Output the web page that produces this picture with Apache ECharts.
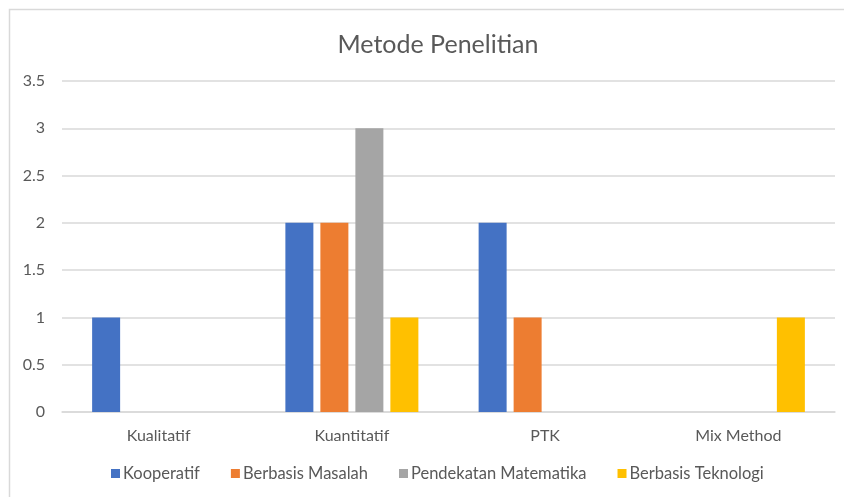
<!DOCTYPE html>
<html>
<head>
<meta charset="utf-8">
<script src="https://cdn.jsdelivr.net/npm/echarts@6/dist/echarts.min.js"></script>
<style>
  html, body { margin: 0; padding: 0; background: #fff; }
  #chart { width: 844px; height: 497px; }
</style>
</head>
<body>
<div id="chart"></div>
<script>
const categories = ["Kualitatif", "Kuantitatif", "PTK", "Mix Method"];
const seriesNames = ["Kooperatif", "Berbasis Masalah", "Pendekatan Matematika", "Berbasis Teknologi"];
const kooperatif = [1, 2, 2, 0];
const berbasisMasalah = [0, 2, 1, 0];
const pendekatanMatematika = [0, 3, 0, 0];
const berbasisTeknologi = [0, 1, 0, 1];
const colors = ["#4472C4", "#ED7D31", "#A5A5A5", "#FFC000"];

const chartDom = echarts.init(document.getElementById("chart"));
const values = [kooperatif, berbasisMasalah, pendekatanMatematika, berbasisTeknologi];
const fontFam = "Lato, 'Open Sans', sans-serif";

chartDom.setOption({
  animation: false,
  textStyle: { fontFamily: fontFam },
  title: {
    text: "Metode Penelitian",
    left: 433,
    textAlign: "center",
    top: 27,
    textStyle: { color: "#595959", fontSize: 25, fontWeight: "normal", fontFamily: fontFam },
  },
  graphic: [
    {
      type: "rect",
      shape: { x: 9.5, y: 9.5, width: 900, height: 600 },
      style: { fill: "none", stroke: "#d9d9d9", lineWidth: 1.5 },
      silent: true,
    },
  ],
  legend: {
    data: seriesNames,
    bottom: 10,
    left: 106,
    itemWidth: 9,
    itemHeight: 9,
    itemGap: 31,
    icon: "rect",
    textStyle: { color: "#595959", fontSize: 16.5, fontFamily: fontFam, padding: [0, 0, 0, -2] },
  },
  grid: {
    left: 62,
    right: 9,
    top: 81,
    bottom: 85,
  },
  xAxis: {
    type: "category",
    data: categories,
    axisTick: { show: false },
    axisLine: { lineStyle: { color: "#d9d9d9", width: 1.5 } },
    axisLabel: { color: "#595959", fontSize: 16, margin: 16, fontFamily: fontFam },
  },
  yAxis: {
    type: "value",
    min: 0,
    max: 3.5,
    interval: 0.5,
    axisLine: { show: false },
    axisTick: { show: false },
    axisLabel: { color: "#595959", fontSize: 16, margin: 17, fontFamily: fontFam },
    splitLine: { lineStyle: { color: "#d9d9d9", width: 1.5 } },
  },
  series: seriesNames.map((name, i) => ({
    name: name,
    type: "bar",
    data: values[i],
    barWidth: 28,
    barGap: "25%",
    itemStyle: { color: colors[i] },
  })),
});
</script>
</body>
</html>
